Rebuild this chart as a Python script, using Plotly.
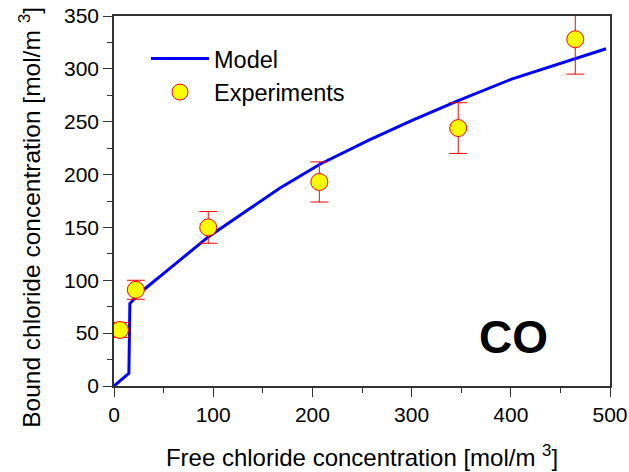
import plotly.graph_objects as go

# Model curve
model_x = [0, 15, 16, 26, 56, 95, 134, 167, 208, 258, 300, 347, 400, 465, 496]
model_y = [0, 12, 78, 88, 111, 141, 166, 187, 210, 233, 251, 270, 290, 310, 319]

# Experiments
exp_x = [6, 22, 95, 207, 347, 465]
exp_y = [53, 91, 150, 193, 244, 328]
exp_err = [7, 9, 15, 19, 24, 33]

x_title = "Free chloride concentration [mol/m <sup>3</sup>]"
y_title = "Bound chloride concentration [mol/m <sup>3</sup>]"
label = "CO"

FONT = "Liberation Sans, Arial, sans-serif"

fig = go.Figure()
fig.add_trace(go.Scatter(
    x=model_x, y=model_y, mode="lines", name="Model",
    line=dict(color="#0000FF", width=3),
    legendgroup="a",
))
fig.add_trace(go.Scatter(
    x=exp_x, y=exp_y, mode="markers", name="Experiments",
    marker=dict(size=17, color="#FFFF00", line=dict(color="#FF0000", width=1)),
    error_y=dict(type="data", array=exp_err, color="#FF0000", thickness=1, width=9),
    legendgroup="b", cliponaxis=True,
))

fig.add_annotation(x=403, y=46, xref="x", yref="y", text="<b>%s</b>" % label,
                   showarrow=False, font=dict(size=46, color="black", family=FONT))

# y-axis title drawn as rotated text (positioned like the reference)
fig.add_annotation(x=-0.171, y=0.455, xref="paper", yref="paper", text=y_title,
                   textangle=-90, showarrow=False, xanchor="center", yanchor="middle",
                   font=dict(size=24.5, color="black", family=FONT))

axis_common = dict(
    showline=True, linecolor="#333333", linewidth=1.5, mirror=True,
    ticks="outside", ticklen=9, tickwidth=1.2, tickcolor="#333333",
    showgrid=False, zeroline=False, automargin=False,
    tickfont=dict(size=21, color="black", family=FONT),
)

fig.update_xaxes(range=[0, 500], tick0=0, dtick=100,
                 minor=dict(ticks="outside", ticklen=5, dtick=50, tickcolor="#333333", tickwidth=1.2),
                 title=dict(text=x_title, font=dict(size=24, color="black", family=FONT), standoff=24),
                 **axis_common)
fig.update_yaxes(range=[0, 350], tick0=0, dtick=50,
                 minor=dict(ticks="outside", ticklen=5, dtick=25, tickcolor="#333333", tickwidth=1.2),
                 **axis_common)

fig.update_layout(
    width=629, height=472,
    margin=dict(l=114, r=19, t=16, b=86),
    paper_bgcolor="white", plot_bgcolor="white",
    font=dict(family=FONT, color="black"),
    showlegend=True,
    legend=dict(x=0.0645, y=0.944, xanchor="left", yanchor="top",
                font=dict(size=23.5, color="black", family=FONT),
                bgcolor="rgba(0,0,0,0)", itemwidth=58,
                traceorder="grouped", tracegroupgap=0),
)

fig.write_html("out.html")
